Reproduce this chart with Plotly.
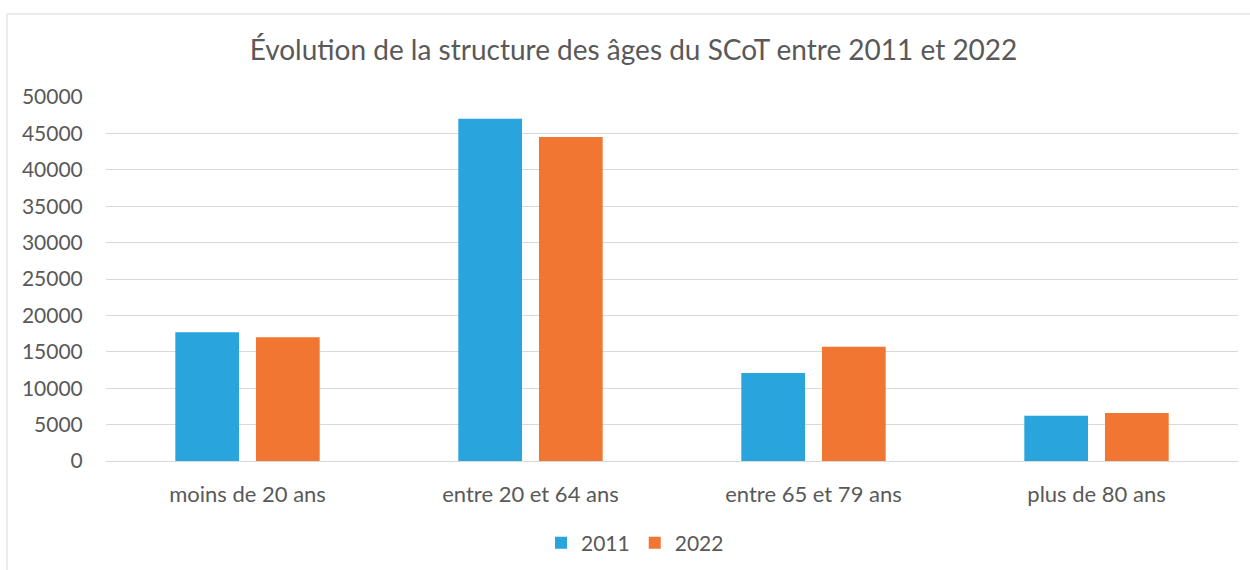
import plotly.graph_objects as go

categories = ["moins de 20 ans", "entre 20 et 64 ans", "entre 65 et 79 ans", "plus de 80 ans"]
values_2011 = [17700, 47000, 12100, 6200]
values_2022 = [17000, 44500, 15700, 6600]
series_names = ["2011", "2022"]
tick_vals = [0, 5000, 10000, 15000, 20000, 25000, 30000, 35000, 40000, 45000, 50000]
tick_text = [str(v) for v in tick_vals]

W, H = 1250, 570
L, R, T, B = 106, 12, 97, 109
FONT = "Lato, 'Open Sans', sans-serif"
GREY = "#595959"

fig = go.Figure()
fig.add_trace(go.Bar(x=categories, y=values_2011, name=series_names[0],
                     marker=dict(color="#29A4DD", line=dict(width=0))))
fig.add_trace(go.Bar(x=categories, y=values_2022, name=series_names[1],
                     marker=dict(color="#F07631", line=dict(width=0))))

pw = W - L - R
ph = H - T - B
def px_x(p):
    return (p - L) / pw
def px_y(p):
    return (H - B - p) / ph

fig.update_layout(
    width=W, height=H,
    margin=dict(l=L, r=R, t=T, b=B, autoexpand=False),
    paper_bgcolor="white", plot_bgcolor="white",
    barmode="group", bargap=0.43, bargroupgap=0.21,
    font=dict(family=FONT, color=GREY, size=20),
    title=dict(text="Évolution de la structure des âges du SCoT entre 2011 et 2022",
               x=633.5 / W, xref="container", xanchor="center",
               y=1 - 50 / H, yref="container", yanchor="middle",
               font=dict(family=FONT, size=28, color=GREY)),
    xaxis=dict(showgrid=False, showline=False, ticks="outside", ticklen=14,
               tickcolor="rgba(0,0,0,0)", tickfont=dict(size=22, color=GREY)),
    yaxis=dict(range=[0, 50000], tickvals=tick_vals, ticktext=tick_text,
               showgrid=True, gridcolor="#D9D9D9", gridwidth=1, zeroline=True,
               zerolinecolor="#D9D9D9", zerolinewidth=1,
               ticks="outside", ticklen=18, tickcolor="rgba(0,0,0,0)",
               tickfont=dict(size=21, color=GREY)),
    legend=dict(orientation="h", x=px_x(635), xanchor="center",
                y=px_y(543), yanchor="middle",
                font=dict(size=21, color=GREY), itemwidth=30,
                traceorder="normal"),
    showlegend=True,
)

fig.add_shape(type="rect", xref="paper", yref="paper",
              x0=px_x(7), x1=px_x(1260), y0=px_y(580), y1=px_y(14),
              line=dict(color="#D9D9D9", width=1), fillcolor="rgba(0,0,0,0)",
              layer="below")

fig.write_html("out.html", config={"displayModeBar": False},
               post_script="document.body.style.margin='0';")
